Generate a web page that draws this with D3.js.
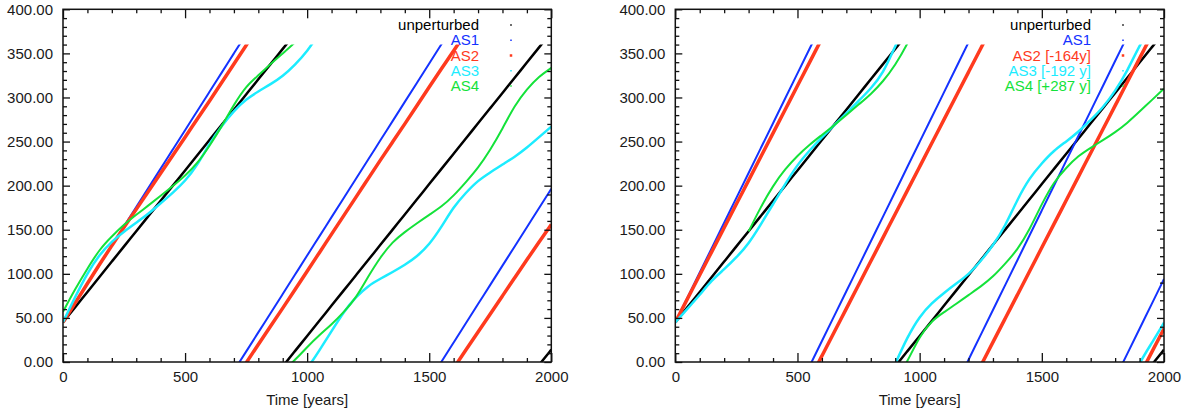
<!DOCTYPE html>
<html>
<head>
<meta charset="utf-8">
<script src="https://cdn.jsdelivr.net/npm/d3@7"></script>
<style>
  body { margin: 0; background: #fff; }
  text { font-family: "Liberation Sans", Arial, Helvetica, sans-serif; }
</style>
</head>
<body>
<div id="chart"></div>
<script>
// time axis (years), shared by every series
const years = [0, 50, 100, 150, 200, 250, 300, 350, 400, 450, 500, 550, 600, 650, 700, 750, 800, 850, 900, 950,
  1000, 1050, 1100, 1150, 1200, 1250, 1300, 1350, 1400, 1450, 1500, 1550, 1600, 1650, 1700, 1750, 1800, 1850, 1900, 1950, 2000];

// phase angles in degrees (the plot shows them modulo 360)
const unperturbed = [45, 62.2, 79.5, 96.7, 113.9, 131.1, 148.4, 165.6, 182.8, 200, 217.3, 234.5, 251.7, 268.9, 286.2, 303.4, 320.6, 337.8, 355.1, 372.3,
  389.5, 406.7, 424, 441.2, 458.4, 475.6, 492.9, 510.1, 527.3, 544.5, 561.8, 579, 596.2, 613.4, 630.7, 647.9, 665.1, 682.3, 699.6, 716.8, 734];

// left panel
const as1Left = [45, 66.8, 88.6, 110.4, 132.1, 153.9, 175.7, 197.5, 219.3, 241.1, 262.9, 284.6, 306.4, 328.2, 350, 371.8, 393.6, 415.3, 437.1, 458.9,
  480.7, 502.5, 524.3, 546.1, 567.8, 589.6, 611.4, 633.2, 655, 676.8, 698.6, 720.3, 742.1, 763.9, 785.7, 807.5, 829.3, 851, 872.8, 894.6, 916.4];
const as2Left = [45, 67, 89, 111, 132, 153, 173, 193.5, 214, 234.5, 255, 275.5, 296, 317, 338, 359, 380, 400.5, 421, 442,
  463, 484, 505, 526, 547, 568, 589, 609.5, 630, 651, 672, 692.5, 713, 733.5, 754, 774.5, 795, 815.5, 836, 856, 876];
const as3Left = [45, 74, 101, 122, 137, 148, 158, 168, 180, 192, 205, 223, 248, 268, 285, 298, 307, 315, 324, 337,
  352, 373, 395, 417, 434, 446.5, 454.5, 462, 470, 479.5, 493, 513, 536, 552, 566, 575, 584, 592.5, 603, 615, 627];
const as4Left = [57, 83, 106, 128, 142.5, 156, 167, 177.5, 188.5, 199.5, 211, 225, 245, 267, 292, 313, 325, 338, 350, 362,
  377, 390.5, 402.5, 416.5, 432.5, 457, 479, 496.5, 507.5, 517.5, 527, 536, 548.5, 564, 580, 600.5, 624.5, 651, 669.5, 684, 693.5];

// right panel (time-shifted runs)
const as1Right = [45, 73.2, 101.5, 129.7, 157.9, 186.2, 214.4, 242.6, 270.8, 299.1, 327.3, 355.5, 383.8, 412, 440.2, 468.5, 496.7, 524.9, 553.1, 581.4,
  609.6, 637.8, 666.1, 694.3, 722.5, 750.8, 779, 807.2, 835.4, 863.7, 891.9, 920.1, 948.4, 976.6, 1004.8, 1033.1, 1061.3, 1089.5, 1117.7, 1146, 1174.2];
const as2Right = [45, 71.8, 98.7, 125.5, 152.3, 179.1, 206, 232.8, 259.6, 286.4, 313.3, 340.1, 366.9, 393.7, 420.6, 447.4, 474.2, 501, 527.9, 554.7,
  581.5, 608.3, 635.2, 662, 688.8, 715.6, 742.5, 769.3, 796.1, 822.9, 849.8, 876.6, 903.4, 930.2, 957.1, 983.9, 1010.7, 1037.5, 1064.4, 1091.2, 1118];
const as3Right = [45, 60.5, 76, 93, 105, 118.5, 134, 156, 179, 202, 224, 240, 255, 268.5, 282, 296, 310, 327, 358, 388.5,
  412, 427, 438.5, 449, 459, 474.5, 492, 514, 544.5, 569, 585.5, 600, 610, 621, 634.5, 648.5, 667, 690, 719.5, 741.5, 764.5];
const as4Right = [null, null, null, null, null, null, 148, 176, 200, 219, 234, 246.7, 257.5, 268.5, 280, 292, 303.5, 318, 336.5, 360.5,
  389.5, 407, 416.5, 426, 436, 445.5, 456.5, 471.5, 487, 510, 539.5, 564.5, 580.5, 594, 603, 611.5, 620.5, 631, 644, 657, 670];

const legendLeft = ["unperturbed", "AS1", "AS2", "AS3", "AS4"];
const legendRight = ["unperturbed", "AS1", "AS2 [-164y]", "AS3 [-192 y]", "AS4 [+287 y]"];

const xTickValues = [0, 500, 1000, 1500, 2000];
const yTickValues = [0, 50, 100, 150, 200, 250, 300, 350, 400];

// styles
const colors = ["#000000", "#1432ff", "#ff3a1e", "#1cecff", "#14e23a"];
const widths = [2.5, 2, 3.5, 2.5, 2];

const W = 1195, H = 412;
const svg = d3.select("#chart").append("svg")
    .attr("width", W)
    .attr("height", H);

const plotTop = 9.3, plotBottom = 362;

function panel(id, left, right, series, labels, legendRightX) {
    const x = d3.scaleLinear().domain([0, 2000]).range([left, right]);
    const y = d3.scaleLinear().domain([0, 400]).range([plotBottom, plotTop]);
    const g = svg.append("g");

    // clip to 0..360 so lines wrap around
    svg.append("clipPath").attr("id", "clip-" + id)
      .append("rect")
        .attr("x", x(0)).attr("y", y(360))
        .attr("width", x(2000) - x(0)).attr("height", y(0) - y(360));

    const lines = g.append("g").attr("clip-path", `url(#clip-${id})`);
    series.forEach((vals, i) => {
        const pts = years.map((t, j) => [t, vals[j]]);
        for (let k = 0; k < 4; k++) {
            const line = d3.line()
                .defined(d => d[1] != null)
                .x(d => x(d[0]))
                .y(d => y(d[1] - 360 * k))
                .curve(d3.curveBasis);
            lines.append("path")
                .attr("d", line(pts))
                .attr("fill", "none")
                .attr("stroke", colors[i])
                .attr("stroke-width", widths[i]);
        }
    });

    // minor ticks
    const xMinor = d3.range(0, 2001, 100).filter(v => v % 500 !== 0);
    const yMinor = d3.range(0, 401, 10).filter(v => v % 50 !== 0);

    const tickStyle = sel => {
        sel.select(".domain").remove();
        sel.selectAll("line").attr("stroke", "#111").attr("stroke-width", 1.3);
        sel.selectAll("text").attr("fill", "#1a1a1a").style("font-size", "15px");
    };

    g.append("g").attr("transform", `translate(0,${plotBottom})`)
        .call(d3.axisBottom(x).tickValues(xTickValues).tickSizeInner(-9).tickSizeOuter(0).tickPadding(9.5).tickFormat(d3.format("d")))
        .call(tickStyle);
    g.append("g").attr("transform", `translate(0,${plotBottom})`)
        .call(d3.axisBottom(x).tickValues(xMinor).tickSizeInner(-4).tickSizeOuter(0).tickFormat(""))
        .call(tickStyle);
    g.append("g").attr("transform", `translate(0,${plotTop})`)
        .call(d3.axisTop(x).tickValues(xTickValues).tickSizeInner(-9).tickSizeOuter(0).tickFormat(""))
        .call(tickStyle);
    g.append("g").attr("transform", `translate(0,${plotTop})`)
        .call(d3.axisTop(x).tickValues(xMinor).tickSizeInner(-4).tickSizeOuter(0).tickFormat(""))
        .call(tickStyle);

    g.append("g").attr("transform", `translate(${left},0)`)
        .call(d3.axisLeft(y).tickValues(yTickValues).tickSizeInner(-7).tickSizeOuter(0).tickPadding(10).tickFormat(d3.format(".2f")))
        .call(tickStyle);
    g.append("g").attr("transform", `translate(${left},0)`)
        .call(d3.axisLeft(y).tickValues(yMinor).tickSizeInner(-4).tickSizeOuter(0).tickFormat(""))
        .call(tickStyle);
    g.append("g").attr("transform", `translate(${right},0)`)
        .call(d3.axisRight(y).tickValues(yTickValues).tickSizeInner(-7).tickSizeOuter(0).tickFormat(""))
        .call(tickStyle);
    g.append("g").attr("transform", `translate(${right},0)`)
        .call(d3.axisRight(y).tickValues(yMinor).tickSizeInner(-4).tickSizeOuter(0).tickFormat(""))
        .call(tickStyle);

    // frame
    g.append("rect")
        .attr("x", left).attr("y", plotTop)
        .attr("width", right - left).attr("height", plotBottom - plotTop)
        .attr("fill", "none").attr("stroke", "#111").attr("stroke-width", 1.5);

    g.append("text")
        .attr("x", (left + right) / 2).attr("y", 405)
        .attr("text-anchor", "middle")
        .attr("fill", "#1a1a1a")
        .style("font-size", "15px")
        .text("Time [years]");

    // legend
    const leg = g.append("g");
    labels.forEach((lab, i) => {
        const cy = 25 + i * 15.25;
        leg.append("text")
            .attr("x", legendRightX).attr("y", cy + 5)
            .attr("text-anchor", "end")
            .attr("fill", colors[i])
            .style("font-size", "15px")
            .text(lab);
        const s = Math.max(1.5, widths[i] - 1);
        leg.append("rect")
            .attr("x", legendRightX + 32 - s / 2).attr("y", cy - s / 2)
            .attr("width", s).attr("height", s)
            .attr("fill", colors[i]);
    });
}

panel("L", 63, 551.3, [unperturbed, as1Left, as2Left, as3Left, as4Left], legendLeft, 479);
panel("R", 675.3, 1164, [unperturbed, as1Right, as2Right, as3Right, as4Right], legendRight, 1091);
</script>
</body>
</html>
